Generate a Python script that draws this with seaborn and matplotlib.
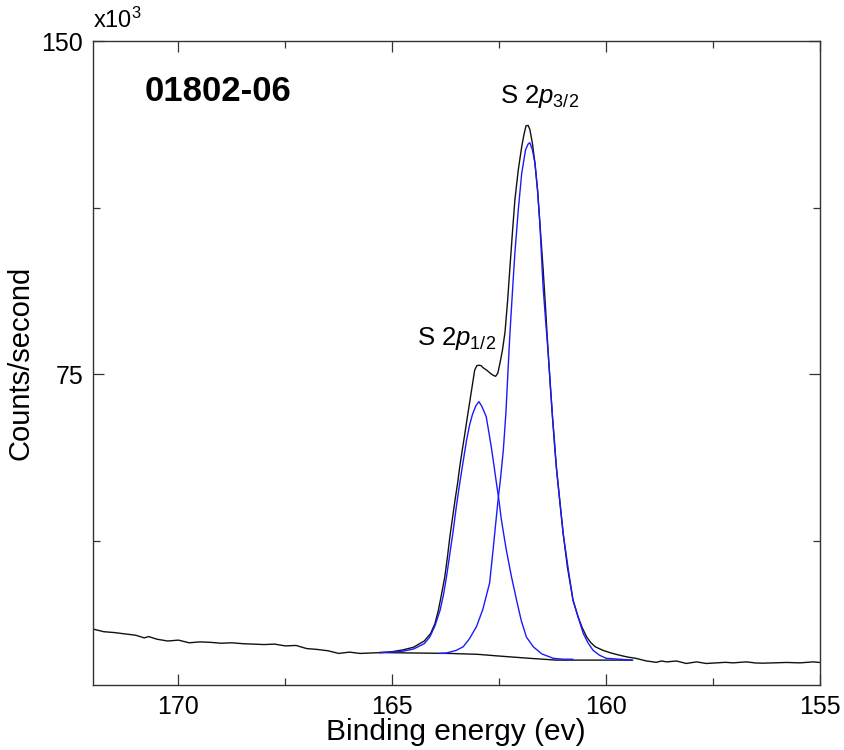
import matplotlib
matplotlib.use("Agg")
import matplotlib.pyplot as plt
from matplotlib.ticker import FixedLocator
import seaborn as sns

sns.set_style("ticks")
plt.rcParams['font.family'] = ['Liberation Sans', 'DejaVu Sans']
plt.rcParams['mathtext.fontset'] = 'custom'
plt.rcParams['mathtext.rm'] = 'Liberation Sans'
plt.rcParams['mathtext.it'] = 'Liberation Sans:italic'
plt.rcParams['text.color'] = 'black'
plt.rcParams['axes.labelcolor'] = 'black'
plt.rcParams['xtick.color'] = 'black'
plt.rcParams['ytick.color'] = 'black'

# Measured spectrum (binding energy in eV, counts in thousands)
spec_energy = [172.0, 171.75, 171.5, 171.25, 171.0, 170.8, 170.7, 170.5, 170.25, 170.0,
               169.75, 169.5, 169.25, 169.0, 168.75, 168.5, 168.25, 168.0, 167.75, 167.5,
               167.25, 167.0, 166.75, 166.5, 166.25, 166.0, 165.75, 165.5, 165.25, 165.0,
               164.75, 164.5, 164.25, 164.1, 164.0, 163.92, 163.85, 163.77, 163.71, 163.65,
               163.59, 163.53, 163.47, 163.42, 163.36, 163.3, 163.24, 163.18, 163.12, 163.07,
               163.02, 162.97, 162.92, 162.88, 162.84, 162.79, 162.73, 162.68, 162.63, 162.58,
               162.53, 162.48, 162.42, 162.36, 162.3, 162.25, 162.19, 162.13, 162.05, 161.97,
               161.92, 161.87, 161.82, 161.78, 161.72, 161.66, 161.6, 161.55, 161.47, 161.41,
               161.35, 161.3, 161.25, 161.2, 161.16, 161.08, 161.0, 160.9, 160.77, 160.65,
               160.55, 160.45, 160.35, 160.25, 160.07, 159.88, 159.68, 159.5, 159.3, 159.05,
               158.82, 158.7, 158.58, 158.35, 158.12, 157.88, 157.65, 157.41, 157.2, 157.03,
               156.71, 156.5, 156.32, 156.0, 155.78, 155.46, 155.15, 155.0]
spec_counts = [17.6, 17.0, 16.8, 16.5, 16.2, 15.6, 15.9, 15.3, 14.9, 15.1,
               14.5, 14.7, 14.6, 14.4, 14.5, 14.3, 14.2, 14.1, 14.2, 13.8,
               13.9, 13.2, 13.0, 12.7, 12.1, 12.4, 12.1, 12.2, 12.3, 12.5,
               12.9, 13.5, 14.9, 16.6, 18.8, 21.8, 25.2, 29.3, 33.6, 38.4,
               42.5, 46.6, 50.4, 54.1, 57.9, 61.6, 65.4, 69.1, 72.8, 75.9,
               76.9, 77.0, 76.9, 76.5, 76.2, 75.9, 75.4, 75.0, 74.7, 74.5,
               75.2, 77.4, 80.4, 84.5, 91.5, 98.4, 106.5, 114.2, 121.0, 126.2,
               128.8, 130.9, 131.0, 130.1, 127.0, 122.5, 116.5, 109.7, 98.8, 89.5,
               79.7, 72.3, 65.4, 58.8, 54.1, 46.5, 39.1, 31.5, 24.1, 20.3,
               17.8, 15.8, 14.5, 13.6, 12.8, 12.2, 11.7, 11.3, 11.0, 10.4,
               10.1, 10.4, 10.2, 10.4, 9.84, 10.2, 9.84, 9.98, 10.1, 9.98,
               10.2, 9.95, 9.91, 10.0, 10.07, 9.98, 10.2, 10.07]

# Shirley background
bg_energy = [165.3, 164.5, 163.65, 163.0, 162.48, 161.78, 161.16, 160.14, 159.37]
bg_counts = [12.3, 12.2, 12.1, 11.9, 11.5, 11.0, 10.6, 10.6, 10.6]

# S 2p1/2 component
p12_energy = [165.3, 165.0, 164.75, 164.5, 164.25, 164.12, 164.0, 163.88, 163.8, 163.73,
              163.65, 163.57, 163.5, 163.42, 163.34, 163.26, 163.19, 163.12, 163.04, 162.97,
              162.9, 162.8, 162.74, 162.68, 162.62, 162.56, 162.5, 162.45, 162.39, 162.33,
              162.21, 162.09, 161.98, 161.86, 161.7, 161.5, 161.23, 161.0, 160.77]
p12_counts = [12.3, 12.4, 12.6, 13.1, 14.3, 15.8, 18.3, 21.8, 25.3, 29.3,
              34.6, 39.9, 45.1, 50.4, 55.3, 60.1, 63.5, 66.0, 67.9, 68.8,
              67.7, 65.4, 62.0, 58.5, 54.5, 50.4, 46.4, 42.5, 38.9, 35.4,
              29.4, 24.1, 19.5, 15.8, 13.6, 12.0, 11.0, 10.8, 10.8]

# S 2p3/2 component
p32_energy = [163.9, 163.73, 163.5, 163.34, 163.2, 163.03, 162.88, 162.72, 162.64, 162.53,
              162.46, 162.4, 162.34, 162.25, 162.19, 162.13, 162.05, 161.97, 161.88, 161.82,
              161.78, 161.72, 161.66, 161.6, 161.55, 161.47, 161.41, 161.35, 161.3, 161.25,
              161.2, 161.16, 161.08, 161.0, 160.88, 160.77, 160.65, 160.53, 160.42, 160.3,
              160.15, 159.99, 159.68, 159.4]
p32_counts = [12.1, 12.2, 12.8, 13.6, 15.3, 18.1, 22.0, 28.0, 35.4, 46.0,
              52.0, 57.9, 66.2, 83.4, 93.0, 102.2, 112.0, 120.2, 125.5, 126.8,
              127.1, 125.5, 122.5, 116.5, 109.7, 94.7, 87.0, 79.7, 72.5, 65.4,
              59.5, 54.1, 46.5, 39.1, 31.0, 24.1, 20.3, 16.6, 14.5, 12.8,
              11.7, 11.0, 10.8, 10.6]

x_major = [170, 165, 160, 155]
x_minor = [167.5, 162.5, 157.5]
y_major = [75, 150]
y_minor = [37.5, 112.5]

fig = plt.figure(figsize=(8.45, 7.5), dpi=100)
ax = fig.add_axes([0.110, 0.0867, 0.860, 0.8586])

black = '#111111'
blue = '#1a1aff'
lw = 1.0
sns.lineplot(x=spec_energy, y=spec_counts, ax=ax, color=black, lw=lw, estimator=None, sort=False)
sns.lineplot(x=bg_energy, y=bg_counts, ax=ax, color=black, lw=lw, estimator=None, sort=False)
sns.lineplot(x=p12_energy, y=p12_counts, ax=ax, color=blue, lw=lw, estimator=None, sort=False)
sns.lineplot(x=p32_energy, y=p32_counts, ax=ax, color=blue, lw=lw, estimator=None, sort=False)

ax.set_xlim(172, 155)
ax.set_ylim(5, 150)
ax.xaxis.set_major_locator(FixedLocator(x_major))
ax.xaxis.set_minor_locator(FixedLocator(x_minor))
ax.yaxis.set_major_locator(FixedLocator(y_major))
ax.yaxis.set_minor_locator(FixedLocator(y_minor))
ax.set_xticklabels([str(v) for v in x_major])
ax.set_yticklabels([str(v) for v in y_major])
ax.tick_params(which='both', direction='in', top=True, right=True, color='#333333', width=0.9,
               labelcolor='black')
ax.tick_params(which='major', length=8, labelsize=18, pad=7)
ax.tick_params(which='minor', length=5)
for s in ax.spines.values():
    s.set_color('#333333')
    s.set_linewidth(1.0)

ax.set_xlabel('Binding energy (ev)', fontsize=21.5, color='black')
ax.xaxis.set_label_coords(0.5, -0.052)
ax.set_ylabel('Counts/second', fontsize=21, color='black')
ax.yaxis.set_label_coords(-0.08, 0.5)

ax.text(0.0, 1.012, r'x10$^3$', transform=ax.transAxes, fontsize=17, ha='left', va='bottom',
        color='black')
ax.text(0.0715, 0.921, '01802-06', transform=ax.transAxes, fontsize=25, fontweight='bold',
        ha='left', va='center', color='black')
ax.text(161.55, 137.5, r'S 2$\mathit{p}_{3/2}$', fontsize=18.5, ha='center', va='center',
        color='black')
ax.text(163.5, 83.0, r'S 2$\mathit{p}_{1/2}$', fontsize=18.5, ha='center', va='center',
        color='black')

fig.savefig('out.png', dpi=100)
